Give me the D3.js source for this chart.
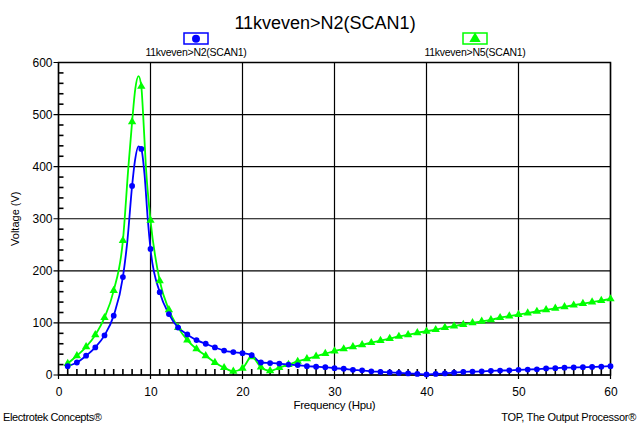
<!DOCTYPE html>
<html>
<head>
<meta charset="utf-8">
<script src="https://cdn.jsdelivr.net/npm/d3@7"></script>
<style>
  html, body { margin: 0; padding: 0; background: #fff; }
  svg { display: block; }
  text { font-family: "Liberation Sans", Arial, sans-serif; fill: #000; }
</style>
</head>
<body>
<svg id="chart" width="639" height="426"></svg>
<script>
// ---------------- data ----------------
const titleText = "11kveven>N2(SCAN1)";
const seriesNames = ["11kveven>N2(SCAN1)", "11kveven>N5(SCAN1)"];
const xLabel = "Frequency (Hpu)";
const yLabel = "Voltage (V)";
const footerLeft = "Electrotek Concepts\u00AE";
const footerRight = "TOP, The Output Processor\u00AE";

const harmonics = [1,2,3,4,5,6,7,8,9,10,11,12,13,14,15,16,17,18,19,20,
  21,22,23,24,25,26,27,28,29,30,31,32,33,34,35,36,37,38,39,40,
  41,42,43,44,45,46,47,48,49,50,51,52,53,54,55,56,57,58,59,60];

const n2Values = [17,24,37,53,76,114,188,363,434,242,159,117,91,78,67,60,53,47,44,42,
  38,24,23,22,20,19,17,16,15,13,12,10,9,7,6,5,4,3,2,1,
  2,3,4.5,6,6.5,7,8,8.5,9,10,10.5,11,12.5,13,14,14.5,15,15.5,16,17];

const n5Values = [22,37,54,77,110,162,258,486,554,297,181,125,91,67,50,37,24,14,7,13,
  35,15,8,14,20,26,31,36,41,46,50,54,58,62,66,70,74,77,81,84,
  87,91,94,97,100,103,106,110,113,116,119,122,125,128,131,134,137,140,143,146];

// extra points of the continuous trace around the resonance (line only, no marker)
const n2PeakX = [7.5, 8.3, 8.7, 9.35, 9.7];
const n2PeakY = [260, 410, 439, 385, 300];
const n5PeakX = [7.6, 8.35, 8.7, 9.2, 9.5];
const n5PeakY = [400, 550, 574, 500, 400];

const xTicks = [0,10,20,30,40,50,60];
const yTicks = [0,100,200,300,400,500,600];

// ---------------- drawing ----------------
const svg = d3.select("#chart");
const x = d3.scaleLinear().domain([0, 60]).range([58.5, 610.5]);
const y = d3.scaleLinear().domain([0, 600]).range([375, 62.5]);

const blue = "#0000ff", green = "#00ff00";

// title
svg.append("text").attr("x", 325).attr("y", 29).attr("text-anchor", "middle")
  .attr("font-size", 18).text(titleText);

// legend
const legend = [
  {cx: 196, name: seriesNames[0], color: blue, sym: d3.symbolCircle, size: 50},
  {cx: 475, name: seriesNames[1], color: green, sym: d3.symbolTriangle, size: 55}
];
legend.forEach(l => {
  svg.append("rect").attr("x", l.cx - 12).attr("y", 33).attr("width", 24).attr("height", 11)
    .attr("fill", "#fff").attr("stroke", l.color).attr("stroke-width", 1.5);
  svg.append("path").attr("d", d3.symbol().type(l.sym).size(l.size)())
    .attr("transform", `translate(${l.cx},${38.8})`).attr("fill", l.color);
  svg.append("text").attr("x", l.cx).attr("y", 56).attr("text-anchor", "middle")
    .attr("font-size", 10.5).attr("letter-spacing", -0.25).text(l.name);
});

// grid (major)
const grid = svg.append("g").attr("stroke", "#000").attr("stroke-width", 1.2);
xTicks.forEach(t => {
  grid.append("line").attr("x1", x(t)).attr("x2", x(t)).attr("y1", y(600)).attr("y2", y(0) + 4);
});
yTicks.forEach(t => {
  grid.append("line").attr("x1", x(0) - 5).attr("x2", x(60)).attr("y1", y(t)).attr("y2", y(t));
});
// frame emphasis
svg.append("rect").attr("x", x(0)).attr("y", y(600)).attr("width", x(60) - x(0))
  .attr("height", y(0) - y(600)).attr("fill", "none").attr("stroke", "#000").attr("stroke-width", 1.5);

// minor ticks
const minor = svg.append("g").attr("stroke", "#000").attr("stroke-width", 1.6);
d3.range(1, 60).filter(v => v % 10 !== 0).forEach(v => {
  minor.append("line").attr("x1", x(v)).attr("x2", x(v)).attr("y1", y(0)).attr("y2", y(0) - 6);
});
d3.range(20, 600, 20).filter(v => v % 100 !== 0).forEach(v => {
  minor.append("line").attr("x1", x(0)).attr("x2", x(0) + 5).attr("y1", y(v)).attr("y2", y(v));
});

// axis labels (tick labels)
const xAxis = d3.axisBottom(x).tickValues(xTicks).tickSize(0).tickPadding(0).tickFormat(d3.format("d"));
const gx = svg.append("g").attr("transform", `translate(0,${y(0)})`).call(xAxis);
gx.select(".domain").remove();
gx.selectAll("text").attr("dy", 21).attr("font-size", 12)
  .attr("font-family", "Liberation Sans, Arial, sans-serif").attr("fill", "#000");

const yAxis = d3.axisLeft(y).tickValues(yTicks).tickSize(0).tickPadding(0).tickFormat(d3.format("d"));
const gy = svg.append("g").attr("transform", `translate(${x(0) - 6},0)`).call(yAxis);
gy.select(".domain").remove();
gy.selectAll("text").attr("font-size", 12)
  .attr("font-family", "Liberation Sans, Arial, sans-serif").attr("fill", "#000");

svg.append("text").attr("transform", `translate(19,${(y(0) + y(600)) / 2}) rotate(-90)`)
  .attr("text-anchor", "middle").attr("font-size", 11).text(yLabel);
svg.append("text").attr("x", (x(0) + x(60)) / 2).attr("y", 409).attr("text-anchor", "middle")
  .attr("font-size", 11.5).attr("letter-spacing", -0.3).text(xLabel);

svg.append("text").attr("x", 3).attr("y", 421).attr("font-size", 11).attr("letter-spacing", -0.4).text(footerLeft);
svg.append("text").attr("x", 636).attr("y", 421).attr("text-anchor", "end")
  .attr("font-size", 11).attr("letter-spacing", -0.3).text(footerRight);

// series
function linePoints(vals, px, py) {
  const pts = harmonics.map((h, i) => [h, vals[i]]);
  px.forEach((v, i) => pts.push([v, py[i]]));
  return pts.sort((a, b) => a[0] - b[0]);
}
const line = d3.line().x(d => x(d[0])).y(d => y(d[1])).curve(d3.curveMonotoneX);

const series = [
  {vals: n5Values, px: n5PeakX, py: n5PeakY, color: green, sym: d3.symbolTriangle, size: 30},
  {vals: n2Values, px: n2PeakX, py: n2PeakY, color: blue, sym: d3.symbolCircle, size: 26}
];
series.forEach(s => {
  svg.append("path").datum(linePoints(s.vals, s.px, s.py)).attr("d", line)
    .attr("fill", "none").attr("stroke", s.color).attr("stroke-width", 1.8);
});
series.forEach(s => {
  svg.append("g").selectAll("path").data(harmonics.map((h, i) => [h, s.vals[i]])).join("path")
    .attr("d", d3.symbol().type(s.sym).size(s.size)())
    .attr("transform", d => `translate(${x(d[0])},${y(d[1])})`)
    .attr("fill", s.color);
});
</script>
</body>
</html>
